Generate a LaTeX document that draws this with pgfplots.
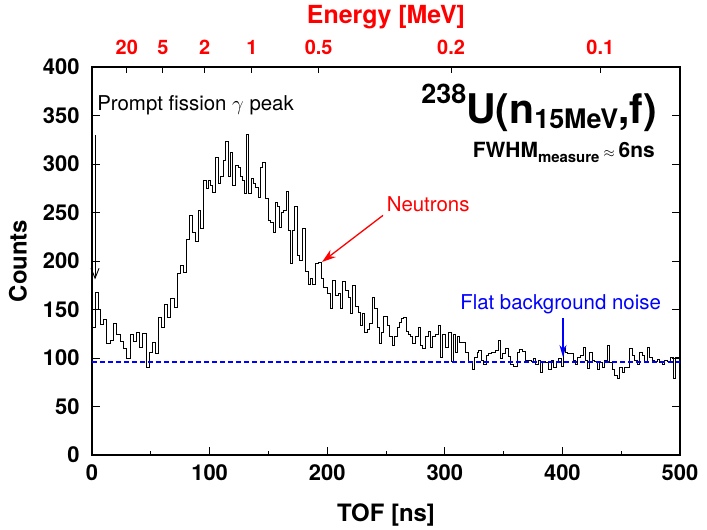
\documentclass[border=0pt]{standalone}
\usepackage{fontspec}
\setmainfont{TeX Gyre Heros}
\usepackage{pgfplots}
\pgfplotsset{compat=1.18}
\usetikzlibrary{arrows.meta}

% time-of-flight histogram, 238U(n,f) at 15 MeV
\pgfplotstableread{
t count
0 132
2.6 168
5.1 150
6.8 135
9.4 140
11.9 115
15.3 118
17.9 136
20.4 124
23.8 117
26.4 110
28.9 100
32.3 124
34.9 117
37.4 126
40.0 111
42.5 125
45.9 90
48.5 106
51.0 116
53.6 105
56.1 142
58.7 132
61.2 155
63.8 142
66.3 161
69.7 152
72.3 187
74.8 195
77.4 188
79.9 222
82.5 247
85.0 230
87.6 220
90.1 252
91.8 234
94.4 283
96.9 275
98.6 283
100.3 278
102.0 271
104.6 307
107.1 280
108.8 287
111.4 304
113.1 323
115.6 287
117.3 312
119.0 278
121.6 299
124.1 296
125.9 287
127.6 283
129.3 270
131.0 331
132.7 270
135.2 285
136.9 280
138.6 276
141.2 266
142.9 297
144.6 302
147.1 265
149.7 242
151.4 240
153.9 229
155.6 260
157.3 256
159.0 235
160.7 250
162.4 252
165.0 272
166.7 232
168.4 198
170.1 232
171.8 256
174.3 206
176.0 201
178.6 234
181.1 189
183.7 176
185.4 182
187.1 176
189.6 198
192.2 199
194.7 182
196.4 173
199.8 167
202.4 151
204.1 180
206.6 165
209.2 167
210.9 151
212.6 179
215.1 170
217.7 162
219.4 146
221.1 175
223.6 153
226.2 147
227.9 134
229.6 146
231.3 126
233.8 129
235.5 136
238.1 162
239.8 151
242.3 132
244.0 115
245.7 126
247.4 143
250.9 134
252.6 122
255.1 113
256.8 122
259.4 132
261.1 137
262.8 141
264.5 142
267.0 127
268.7 124
270.4 122
272.1 115
274.7 122
277.2 132
278.9 113
280.6 110
283.2 122
285.7 127
287.4 111
289.1 122
291.7 124
294.2 134
295.9 101
297.6 124
300.2 111
302.7 126
305.3 96
307.0 124
308.7 106
310.4 122
312.1 116
317.2 106
319.7 97
323.1 88
324.8 101
327.4 106
328.2 108
330.8 98
332.5 93
335.0 103
336.7 105
339.3 106
342.7 108
345.2 118
346.9 100
348.6 105
351.2 110
353.7 102
355.4 93
358.0 91
361.4 106
363.1 109
365.6 107
368.2 98
373.3 96
375.0 100
376.7 93
379.3 98
381.0 85
382.7 96
385.2 95
387.8 88
390.3 98
392.0 90
394.6 96
396.3 100
398.8 91
400.5 110
402.2 106
403.9 105
409.0 98
410.7 93
412.4 101
415.0 103
417.5 111
419.2 98
420.9 89
422.6 106
425.2 98
426.9 96
429.4 88
431.1 95
433.7 90
435.4 98
437.9 113
439.6 95
442.2 88
443.9 82
446.4 79
448.1 90
450.7 85
452.4 90
456.6 110
459.2 103
460.9 98
463.4 93
465.1 106
467.7 103
469.4 96
471.9 111
473.6 101
476.2 98
477.9 96
480.4 99
482.1 95
484.7 93
486.4 98
488.9 97
491.5 101
494.0 79
495.7 101
498.3 100
500 100
}\tof

\begin{document}
\begin{tikzpicture}
\pgfplotsset{
  common/.style={
    scale only axis, width=588bp, height=388bp,
    xmin=0, xmax=500, ymin=0, ymax=400,
    tick align=inside,
    /pgf/number format/assume math mode=true,
  }
}
% energy scale on top
\begin{axis}[common,
  axis x line*=top, axis y line=none,
  xtick={29.6,60.3,95.9,136,192.7,305.3,432.2},
  xticklabels={20,5,2,1,0.5,0.2,0.1},
  major tick length=6bp,
  x axis line style={line width=1.3bp},
  xtick style={line width=0.9bp, black},
  xticklabel style={red, font=\bfseries\fontsize{20}{20}\selectfont, yshift=9bp},
  xlabel={Energy [MeV]},
  xlabel style={red, font=\bfseries\fontsize{25}{25}\selectfont,
    at={(axis description cs:0.5,1.129)}, anchor=center},
]
\end{axis}
% TOF histogram
\begin{axis}[common, name=main,
  clip=false,
  axis line style={line width=1.3bp},
  xtick={0,100,...,500}, minor x tick num=1,
  ytick={0,50,...,400},
  xtick pos=left, ytick pos=both, yticklabel pos=left,
  major tick length=8bp, minor tick length=4bp,
  every tick/.style={line width=0.9bp, black},
  ticklabel style={font=\bfseries\fontsize{22}{22}\selectfont},
  xticklabel style={yshift=-6bp},
  yticklabel style={xshift=-9bp},
  xlabel={TOF [ns]}, ylabel={Counts},
  xlabel style={font=\bfseries\fontsize{24}{24}\selectfont,
    at={(axis description cs:0.5,-0.155)}, anchor=center},
  ylabel style={font=\bfseries\fontsize{24}{24}\selectfont,
    at={(axis description cs:-0.126,0.5)}, anchor=center},
]
\addplot[const plot, black, line width=0.8bp] table[x=t, y=count] {\tof};
\addplot[blue, line width=1.4bp, dash pattern=on 5bp off 3bp] coordinates {(0,96) (500,96)};

% annotations
\node[anchor=base west, inner sep=0, font=\fontsize{20.5}{20.5}\selectfont]
  at (axis cs:4.3,355.5) {Prompt fission $\gamma$ peak};
\draw[black, line width=0.9bp, -{Straight Barb[length=10bp, width=8bp]}]
  (axis cs:2.6,330) -- (axis cs:2.6,181);

\node[anchor=base east, inner sep=0, font=\bfseries\fontsize{41}{41}\selectfont]
  at (axis cs:480.5,342) {\raisebox{20bp}{\fontsize{27}{27}\selectfont 238}U(n\raisebox{-5bp}{\fontsize{27}{27}\selectfont 15MeV},f)};
\node[anchor=base east, inner sep=0, font=\bfseries\fontsize{21}{21}\selectfont]
  at (axis cs:478.7,307) {FWHM\raisebox{-5bp}{\fontsize{15}{15}\selectfont measure}\hspace{4bp}{\fontsize{15}{15}\selectfont$\approx$}\hspace{4bp}6ns};

\node[anchor=base west, inner sep=0, red, font=\fontsize{20.5}{20.5}\selectfont]
  at (axis cs:250.5,251) {Neutrons};
\draw[red, line width=1.3bp, -{Stealth[length=14bp, width=9bp]}]
  (axis cs:247.4,247) -- (axis cs:195.6,199);

\node[anchor=base west, inner sep=0, blue, font=\fontsize{20.5}{20.5}\selectfont]
  at (axis cs:313,149.5) {Flat background noise};
\draw[blue, line width=1.3bp, -{Stealth[length=12bp, width=7bp]}]
  (axis cs:400.5,141) -- (axis cs:400.5,101);
\end{axis}
\pgfresetboundingbox
\path ([shift={(-92bp,-75bp)}]main.south west) rectangle ([shift={(27bp,67bp)}]main.north east);
\end{tikzpicture}
\end{document}
